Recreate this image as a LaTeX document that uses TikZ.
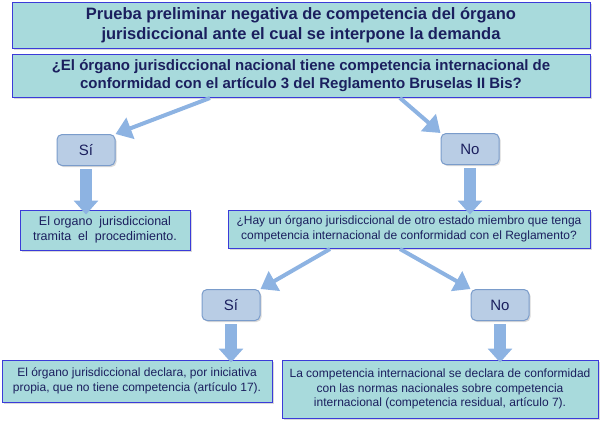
\documentclass[tikz,border=0pt]{standalone}
\usepackage{fontspec}
\setmainfont{Liberation Sans}
\usetikzlibrary{arrows.meta,shadows}
\definecolor{boxfill}{HTML}{A8DADC}
\definecolor{boxline}{HTML}{3B3BD9}
\definecolor{navy}{HTML}{1B1F5E}
\definecolor{ansfill}{HTML}{B9CDE5}
\definecolor{ansline}{HTML}{7A9CCB}
\definecolor{arr}{HTML}{8DB3E2}
\tikzset{
  x=1pt,y=-1pt,
  bigbox/.style={draw=boxline,line width=1pt,fill=boxfill,inner sep=1pt,align=center,text=navy,drop shadow={opacity=0.3,shadow xshift=1.5pt,shadow yshift=-1.5pt}},
  ansbox/.style={draw=ansline,line width=1pt,fill=ansfill,rounded corners=5pt,minimum width=58pt,minimum height=31pt,text=navy,font=\fontsize{15}{17}\selectfont,drop shadow={opacity=0.3,shadow xshift=1.5pt,shadow yshift=-1.5pt}},
  diag/.style={draw=arr,line width=4pt,-{Triangle[length=16pt,width=22pt]}},
  down/.style={draw=arr,line width=12pt,-{Triangle[length=14pt,width=24pt]}},
}
\begin{document}
\begin{tikzpicture}
\useasboundingbox (0,0) rectangle (600,424);
\node[bigbox,minimum width=578pt,minimum height=46pt,font=\bfseries\fontsize{16.5}{20}\selectfont] (t) at (301,25) {Prueba preliminar negativa de competencia del órgano\\jurisdiccional ante el cual se interpone la demanda};
\node[bigbox,minimum width=578pt,minimum height=43pt,font=\bfseries\fontsize{15}{18}\selectfont] (q1) at (301,76) {¿El órgano jurisdiccional nacional tiene competencia internacional de\\conformidad con el artículo 3 del Reglamento Bruselas II Bis?};
\node[ansbox] (s1) at (86,150) {Sí};
\node[ansbox] (n1) at (470,149) {No};
\node[bigbox,minimum width=170pt,minimum height=40pt,font=\fontsize{12.5}{15}\selectfont] (b1) at (105,230) {El organo\ \ jurisdiccional\\tramita\ \ el\ \ procedimiento.};
\node[bigbox,minimum width=362pt,minimum height=38pt,font=\fontsize{12}{15}\selectfont] (q2) at (409,229) {¿Hay un órgano jurisdiccional de otro estado miembro que tenga\\competencia internacional de conformidad con el Reglamento?};
\node[ansbox] (s2) at (231,305) {Sí};
\node[ansbox] (n2) at (500,305) {No};
\node[bigbox,minimum width=270pt,minimum height=42pt,font=\fontsize{12}{14.5}\selectfont] (b2) at (137,381) {El órgano jurisdiccional declara, por iniciativa\\propia, que no tiene competencia (artículo 17).};
\node[bigbox,minimum width=316pt,minimum height=58pt,font=\fontsize{12}{14.5}\selectfont] (b3) at (440,389) {La competencia internacional se declara de conformidad\\con las normas nacionales sobre competencia\\internacional (competencia residual, artículo 7).};
\coordinate (q1l) at (210,98);
\coordinate (q1r) at (400,98);
\coordinate (q2l) at (330,249);
\coordinate (q2r) at (400,249);
\draw[diag] (q1l) -- (s1.north east);
\draw[diag] (q1r) -- (n1.north west);
\draw[diag] (q2l) -- (s2.north east);
\draw[diag] (q2r) -- (n2.north west);
\draw[down] (s1.south) ++(0,3) -- ([yshift=-5pt]b1.north -| s1.south);
\draw[down] (n1.south) ++(0,3) -- ([yshift=-5pt]n1.south |- q2.north);
\draw[down] (s2.south) ++(0,3) -- ([yshift=-3pt]b2.north -| s2.south);
\draw[down] (n2.south) ++(0,3) -- ([yshift=-3pt]b3.north -| n2.south);
\end{tikzpicture}
\end{document}
